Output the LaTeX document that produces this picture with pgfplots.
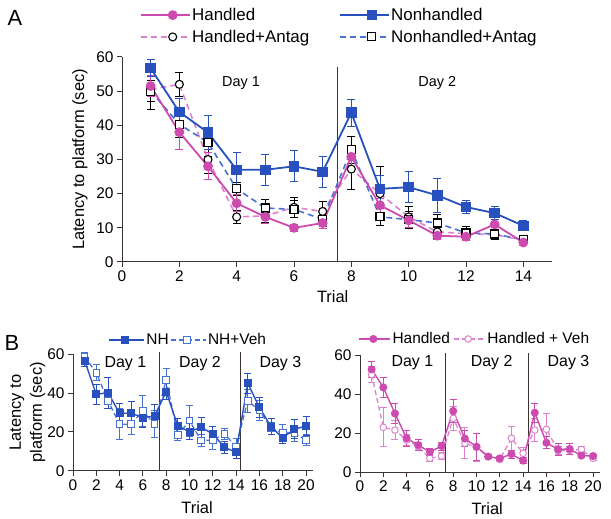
\documentclass[border=0pt]{standalone}
\usepackage{fontspec}
\setmainfont{Liberation Sans}
\usepackage{pgfplots}
\pgfplotsset{compat=1.18}

\definecolor{hmag}{RGB}{205,75,175}
\definecolor{hmagl}{RGB}{222,130,208}
\definecolor{nhblue}{RGB}{40,80,190}
\definecolor{nhbluel}{RGB}{70,115,210}
\definecolor{axgray}{RGB}{60,50,50}

\pgfplotsset{
  ratbase/.style={
    scale only axis, axis x line=bottom, axis y line=left,
    axis line style={-, draw=axgray, line width=1bp},
    tick align=outside, major tick length=5bp,
    tick style={draw=axgray, line width=1bp},
    /pgf/number format/assume math mode=true,
    ticklabel style={font=\fontsize{15.5}{17}\selectfont},
    label style={font=\fontsize{16.5}{19}\selectfont},
    ymin=0, ymax=60, clip=false,
  },
  ebars/.style={
    /pgfplots/error bars/y dir=both,
    /pgfplots/error bars/y explicit,
    /pgfplots/error bars/error bar style={solid, draw=#1, line width=1bp},
    /pgfplots/error bars/error mark options={solid, rotate=90, draw=#1, mark size=4bp, line width=1bp}
  },
  ebarsB/.style={
    /pgfplots/error bars/y dir=both,
    /pgfplots/error bars/y explicit,
    /pgfplots/error bars/error bar style={solid, draw=#1, line width=0.9bp},
    /pgfplots/error bars/error mark options={solid, rotate=90, draw=#1, mark size=3.5bp, line width=0.9bp}
  },
}

\begin{document}
\begin{tikzpicture}
\path[use as bounding box] (0,0) rectangle (611bp,519bp);
\node[font=\fontsize{22}{24}\selectfont] at (15bp,501bp) {A};
\node[font=\fontsize{22}{24}\selectfont] at (12bp,176bp) {B};

% ---------- panel A ----------
\begin{axis}[ratbase,
  at={(122bp,257bp)}, anchor=south west,
  width=430bp, height=205bp,
  xmin=0, xmax=15,
  xtick={0,2,...,14}, ytick={0,10,...,60},
  xlabel={Trial}, ylabel={Latency to platform (sec)},
  xlabel style={at={(axis description cs:0.49,-0.17)}, anchor=center},
  ylabel style={at={(axis description cs:-0.098,0.5)}, anchor=center},
  legend columns=2,
  legend style={draw=none, fill=none, at={(axis description cs:0.034,1.151)}, anchor=west,
    font=\fontsize{17}{19}\selectfont, cells={anchor=west}, nodes={inner sep=1.5bp}, row sep=5bp,
    /tikz/every even column/.append style={column sep=28bp}},
  legend image code/.code={\draw[mark repeat=2,mark phase=2] plot coordinates {(0bp,0bp)(32bp,0bp)(49bp,0bp)};},
]
\addlegendimage{hmag, line width=1.8bp, mark=*, mark size=4bp, mark options={solid, fill=hmag}}
\addlegendimage{nhblue, line width=1.8bp, mark=square*, mark size=4bp, mark options={solid, fill=nhblue}}
\addlegendimage{hmagl, line width=1.6bp, dash pattern=on 6bp off 4bp, mark=*, mark size=4bp, mark options={solid, draw=black, fill=white, line width=1.1bp}}
\addlegendimage{nhbluel, line width=1.6bp, dash pattern=on 6bp off 4bp, mark=square*, mark size=4bp, mark options={solid, draw=black, fill=white, line width=1.1bp}}
\legend{Handled, Nonhandled, Handled+Antag, Nonhandled+Antag}

\draw[axgray, line width=1bp] (axis cs:7.5,0) -- (axis cs:7.5,57);
\node[font=\fontsize{14.5}{17}\selectfont] at (axis cs:4.15,52.5) {Day 1};
\node[font=\fontsize{14.5}{17}\selectfont] at (axis cs:11,52.5) {Day 2};

% Handled + Antag
\addplot[forget plot, hmagl, line width=1.6bp, dash pattern=on 6bp off 4bp, mark=*, mark size=4bp,
  mark options={solid, draw=black, fill=white, line width=1.1bp}, ebars=black]
  table[x=t, y=m, y error=e] {
t m e
1 50.5 6
2 52 3.5
3 30 4
4 13.2 2
5 13.5 2
6 16 3
7 14.8 3
8 27.2 6
9 20 8
10 13.2 3
11 8.8 2
12 8.3 2
13 8 1.5
14 6.4 1
};
% Nonhandled + Antag
\addplot[forget plot, nhbluel, line width=1.6bp, dash pattern=on 6bp off 4bp, mark=square*, mark size=4bp,
  mark options={solid, draw=black, fill=white, line width=1.1bp}, ebars=black]
  table[x=t, y=m, y error=e] {
t m e
1 50 3
2 40.3 4
3 35 4
4 21.4 2
5 15.8 2.5
6 15.4 2.5
7 12.5 2
8 32.8 4
9 13.2 2.5
10 12.4 2.5
11 11.4 2.5
12 8.5 2
13 8.2 1
14 6.5 1
};
% Handled
\addplot[forget plot, hmag, line width=1.8bp, mark=*, mark size=4bp, mark options={fill=hmag}, ebars=hmag]
  table[x=t, y=m, y error=e] {
t m e
1 51.5 3
2 38 5
3 28 4
4 17.2 2.5
5 13.2 2
6 10 1
7 11.4 1.5
8 30.8 3
9 16.6 2
10 12.2 2
11 7.7 1
12 7.4 1
13 11 1.5
14 5.7 1
};
% Nonhandled
\addplot[forget plot, nhblue, line width=1.8bp, mark=square*, mark size=4.3bp, mark options={fill=nhblue}, ebars=nhblue]
  table[x=t, y=m, y error=e] {
t m e
1 56.7 2.5
2 43.9 4
3 37.9 5
4 27 5
5 27 4.5
6 28 4.5
7 26.4 4.5
8 43.7 4
9 21.4 4
10 21.9 4.5
11 19.5 5
12 16.1 2
13 14.3 2
14 10.6 1.5
};
\end{axis}

% ---------- panel B, left ----------
\begin{axis}[ratbase,
  at={(73bp,48bp)}, anchor=south west,
  width=240bp, height=117bp,
  xmin=0, xmax=20.6,
  xtick={0,2,...,20}, ytick={0,20,40,60},
  xlabel={Trial}, ylabel={Latency to\\platform (sec)},
  xlabel style={at={(axis description cs:0.517,-0.316)}, anchor=center},
  ylabel style={at={(axis description cs:-0.19,0.5)}, anchor=center, align=center, font=\fontsize{16.5}{21}\selectfont},
  legend columns=2,
  legend style={draw=none, fill=none, at={(axis description cs:0.135,1.12)}, anchor=west,
    font=\fontsize{15.5}{18}\selectfont, cells={anchor=west}, nodes={inner sep=1.5bp},
    /tikz/every even column/.append style={column sep=0bp}},
  legend image code/.code={\draw[mark repeat=2,mark phase=2] plot coordinates {(0bp,0bp)(16bp,0bp)(35bp,0bp)};},
]
\addlegendimage{nhblue, line width=1.4bp, mark=square*, mark size=3.3bp, mark options={solid, fill=nhblue}}
\addlegendimage{nhbluel, line width=1.3bp, dash pattern=on 5bp off 3bp, mark=square*, mark size=3.3bp, mark options={solid, draw=nhbluel, fill=white, line width=1bp}}
\legend{NH, NH+Veh}

\draw[axgray, line width=1bp] (axis cs:7.4,0) -- (axis cs:7.4,61);
\draw[axgray, line width=1bp] (axis cs:14.4,0) -- (axis cs:14.4,61);
\node[font=\fontsize{16}{18}\selectfont] at (axis cs:4.5,55) {Day 1};
\node[font=\fontsize{16}{18}\selectfont] at (axis cs:10.9,55) {Day 2};
\node[font=\fontsize{16}{18}\selectfont] at (axis cs:17.8,55) {Day 3};

\addplot[forget plot, nhbluel, line width=1.3bp, dash pattern=on 5bp off 3bp, mark=square*, mark size=3.3bp,
  mark options={solid, draw=nhbluel, fill=white, line width=1bp}, ebarsB=nhbluel]
  table[x=t, y=m, y error=e] {
t m e
1 58.6 2
2 50.4 4
3 36 4
4 24 8
5 24 5
6 30.8 8
7 24 7
8 46.7 6
9 18.5 3
10 25.8 8
11 15.6 3
12 15.9 5
13 19 3
14 12.5 4
15 36 6
16 31 5
17 22 3
18 19.7 4
19 19.3 4
20 16 3
};
\addplot[forget plot, nhblue, line width=1.4bp, mark=square*, mark size=3.3bp, mark options={fill=nhblue}, ebarsB=nhblue]
  table[x=t, y=m, y error=e] {
t m e
1 56.6 3
2 39.3 5
3 40.2 8
4 29.6 5
5 29.6 6
6 27.4 5
7 28.2 6
8 40.7 4
9 23 4
10 20.2 4
11 22.4 5
12 19 4
13 12.1 3
14 9.6 3
15 45 5
16 32.6 5
17 22.7 4
18 17 3
19 21.5 5
20 23 5
};
\end{axis}

% ---------- panel B, right ----------
\begin{axis}[ratbase,
  at={(360bp,47bp)}, anchor=south west,
  width=240bp, height=117bp,
  xmin=0, xmax=20.6,
  xtick={0,2,...,20}, ytick={0,20,40,60},
  xlabel={Trial},
  xlabel style={at={(axis description cs:0.53,-0.316)}, anchor=center},
  legend columns=2,
  legend style={draw=none, fill=none, at={(axis description cs:-0.019,1.137)}, anchor=west,
    font=\fontsize{15.5}{18}\selectfont, cells={anchor=west}, nodes={inner sep=1.5bp},
    /tikz/every even column/.append style={column sep=2bp}},
  legend image code/.code={\draw[mark repeat=2,mark phase=2] plot coordinates {(0bp,0bp)(14bp,0bp)(31bp,0bp)};},
]
\addlegendimage{hmag, line width=1.4bp, mark=*, mark size=3.3bp, mark options={solid, fill=hmag}}
\addlegendimage{hmagl, line width=1.3bp, dash pattern=on 5bp off 3bp, mark=*, mark size=3.3bp, mark options={solid, draw=hmagl, fill=white, line width=1bp}}
\legend{Handled, Handled + Veh}

\draw[axgray, line width=1bp] (axis cs:7.3,0) -- (axis cs:7.3,61);
\draw[axgray, line width=1bp] (axis cs:14.5,0) -- (axis cs:14.5,61);
\node[font=\fontsize{16}{18}\selectfont] at (axis cs:4.5,56) {Day 1};
\node[font=\fontsize{16}{18}\selectfont] at (axis cs:11.3,56) {Day 2};
\node[font=\fontsize{16}{18}\selectfont] at (axis cs:17.9,56) {Day 3};

\addplot[forget plot, hmagl, line width=1.3bp, dash pattern=on 5bp off 3bp, mark=*, mark size=3.3bp,
  mark options={solid, draw=hmagl, fill=white, line width=1bp}, ebarsB=hmagl]
  table[x=t, y=m, y error=e] {
t m e
1 50 4
2 22.9 10
3 21.5 5
4 16.4 3
5 13 2
6 7 1.5
7 8.2 2
8 27.5 6
9 14.7 8
10 12.6 7
11 7.9 1
12 6.5 1
13 17.3 6
14 9.6 3
15 21.5 6
16 21.9 8
17 11 2
18 11 2
19 11.6 1.5
20 7 1
};
\addplot[forget plot, hmag, line width=1.4bp, mark=*, mark size=3.3bp, mark options={fill=hmag}, ebarsB=hmag]
  table[x=t, y=m, y error=e] {
t m e
1 52.6 4
2 43.4 5
3 30 5
4 17.3 4
5 13.8 3
6 10.3 2
7 13.3 2
8 31.3 6
9 17.1 4
10 13 7
11 7.9 1
12 7 1
13 9.2 2
14 5.8 1.5
15 30.4 5
16 15 3
17 11.6 3
18 11.8 3
19 8.4 1
20 8.2 1
};
\end{axis}
\end{tikzpicture}
\end{document}
